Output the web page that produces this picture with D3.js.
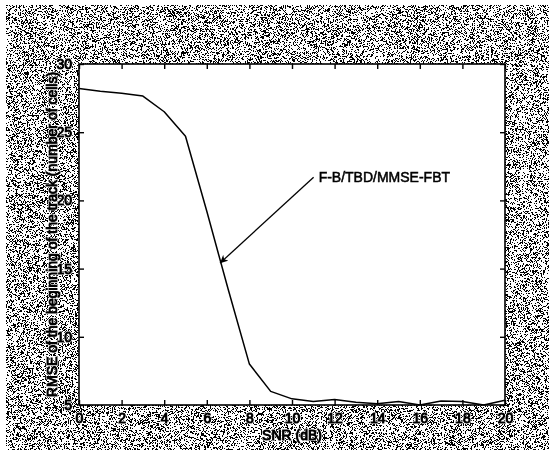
<!DOCTYPE html>
<html>
<head>
<meta charset="utf-8">
<script src="https://cdn.jsdelivr.net/npm/d3@7"></script>
<style>
  html, body { margin: 0; padding: 0; background: #fff; overflow: hidden; }
  #wrap { position: relative; width: 549px; height: 450px; }
  #grain, #chart { position: absolute; left: 0; top: 0; display: block; }
  text { font-family: "Liberation Sans Narrow", "Arial Narrow", "Liberation Sans", Arial, sans-serif; fill: #000; }
  .ink { paint-order: stroke; stroke: #fff; stroke-width: 2.2px; stroke-linejoin: round; }
  .ink2 { stroke: #000; stroke-width: 0.9px; fill: #000; }
</style>
</head>
<body>
<div id="wrap">
  <canvas id="grain" width="549" height="450"></canvas>
  <svg id="chart" width="549" height="450"></svg>
</div>
<script>
// SNR values (dB) and the RMSE of the track start (number of cells)
const snr = [0, 1, 2, 3, 4, 5, 6, 7, 8, 9, 10, 11, 12, 13, 14, 15, 16, 17, 18, 19, 20];
const rmse = [28.2, 28.0, 27.85, 27.65, 26.5, 24.7, 19.2, 13.5, 8.0, 6.0, 5.45, 5.25, 5.4, 5.2, 5.1, 5.25, 5.0, 5.3, 5.25, 5.0, 5.35];
const xTicks = [0, 2, 4, 6, 8, 10, 12, 14, 16, 18, 20];
const yTicks = [5, 10, 15, 20, 25, 30];
const seriesName = "F-B/TBD/MMSE-FBT";
const xTitle = "SNR (dB)";
const yTitle = "RMSE of the beginning of the track (number of cells)";
// annotation: label anchor and arrow tip in data units
const labelAt = [11.25, 21.7];
const arrowTip = [6.62, 15.4];

const W = 549, H = 450;
const m = { left: 79, right: 505, top: 64, bottom: 405 };
const fontSize = 14;

// scanned-paper backdrop: a deterministic black/white dither
(function drawGrain() {
  const ctx = document.getElementById("grain").getContext("2d");
  const img = ctx.createImageData(W, H);
  const hash = (i, j) => {
    const s = Math.sin(i * 12.9898 + j * 78.233) * 43758.5453;
    return s - Math.floor(s);
  };
  const smooth = (px, py) => {
    const i = Math.floor(px), j = Math.floor(py);
    const fx = px - i, fy = py - j;
    const a = hash(i, j), b = hash(i + 1, j), c = hash(i, j + 1), d = hash(i + 1, j + 1);
    const ux = fx * fx * (3 - 2 * fx), uy = fy * fy * (3 - 2 * fy);
    return a + (b - a) * ux + (c - a) * uy + (a - b - c + d) * ux * uy;
  };
  for (let yy = 0; yy < H; yy++) {
    for (let xx = 0; xx < W; xx++) {
      const k = (yy * W + xx) * 4;
      let v = 255;
      if (xx >= 6 && yy >= 5) {
        const n = 0.78 * hash(xx + 0.5, yy + 0.5) + 0.22 * smooth(xx / 2.2, yy / 1.6);
        v = n < 0.37 ? 0 : 255;
      }
      img.data[k] = img.data[k + 1] = img.data[k + 2] = v;
      img.data[k + 3] = 255;
    }
  }
  ctx.putImageData(img, 0, 0);
})();

const svg = d3.select("#chart");
const defs = svg.append("defs");

const x = d3.scaleLinear().domain([0, 20]).range([m.left, m.right]);
const y = d3.scaleLinear().domain([5, 30]).range([m.bottom, m.top]);

// plot area
svg.append("rect").attr("x", m.left).attr("y", m.top)
  .attr("width", m.right - m.left).attr("height", m.bottom - m.top)
  .attr("fill", "#fff");

const tickLen = 5;
const axisStyle = g => {
  g.select(".domain").remove();
  g.selectAll(".tick line").attr("stroke", "#000").attr("stroke-width", 1.4);
  g.selectAll(".tick text").attr("font-size", fontSize).attr("class", "ink");
};

// bottom axis with labels, ticks pointing inward
svg.append("g").attr("transform", `translate(0,${m.bottom})`)
  .call(d3.axisBottom(x).tickValues(xTicks).tickFormat(d3.format("d")).tickSizeInner(-tickLen).tickPadding(8))
  .call(axisStyle);
// top axis ticks only
svg.append("g").attr("transform", `translate(0,${m.top})`)
  .call(d3.axisTop(x).tickValues(xTicks).tickFormat("").tickSizeInner(-tickLen))
  .call(axisStyle);
// left axis with labels
svg.append("g").attr("transform", `translate(${m.left},0)`)
  .call(d3.axisLeft(y).tickValues(yTicks).tickFormat(d3.format("d")).tickSizeInner(-tickLen).tickPadding(7))
  .call(axisStyle);
// right axis ticks only
svg.append("g").attr("transform", `translate(${m.right},0)`)
  .call(d3.axisRight(y).tickValues(yTicks).tickFormat("").tickSizeInner(-tickLen))
  .call(axisStyle);

// frame
svg.append("rect").attr("x", m.left).attr("y", m.top)
  .attr("width", m.right - m.left).attr("height", m.bottom - m.top)
  .attr("fill", "none").attr("stroke", "#000").attr("stroke-width", 1.6);

// curve
const line = d3.line().x((d, i) => x(snr[i])).y(d => y(d));
svg.append("path").datum(rmse).attr("d", line)
  .attr("fill", "none").attr("stroke", "#000").attr("stroke-width", 1.5)
  .attr("stroke-linejoin", "round");

// annotation arrow and label
defs.append("marker").attr("id", "arrowhead")
  .attr("viewBox", "0 0 10 10").attr("refX", 10).attr("refY", 5)
  .attr("markerWidth", 8).attr("markerHeight", 8).attr("markerUnits", "userSpaceOnUse")
  .attr("orient", "auto")
  .append("path").attr("d", "M0,0 L10,5 L0,10 L3,5 Z").attr("fill", "#000");

svg.append("line")
  .attr("x1", x(labelAt[0]) - 5).attr("y1", y(labelAt[1]))
  .attr("x2", x(arrowTip[0])).attr("y2", y(arrowTip[1]))
  .attr("stroke", "#000").attr("stroke-width", 1.3)
  .attr("marker-end", "url(#arrowhead)");

svg.append("text").attr("x", x(labelAt[0])).attr("y", y(labelAt[1]) + 5)
  .attr("font-size", fontSize).attr("stroke", "#000").attr("stroke-width", 0.5)
  .text(seriesName);

// axis titles (white halo first, then a thin black outline for weight)
function title(sel) {
  sel.append("text").attr("class", "ink");
  sel.append("text").attr("class", "ink2");
}
const xt = svg.append("g").attr("transform", `translate(${(m.left + m.right) / 2},440)`);
title(xt);
xt.selectAll("text").attr("text-anchor", "middle").attr("font-size", fontSize).text(xTitle);

const yt = svg.append("g").attr("transform", `translate(57,${(m.top + m.bottom) / 2}) rotate(-90)`);
title(yt);
yt.selectAll("text").attr("text-anchor", "middle").attr("font-size", fontSize).text(yTitle);

// thicken the tick labels the same way
svg.selectAll(".tick text.ink").each(function () {
  const t = d3.select(this);
  d3.select(this.parentNode).append("text")
    .attr("class", "ink2").attr("font-size", fontSize)
    .attr("x", t.attr("x")).attr("y", t.attr("y")).attr("dy", t.attr("dy"))
    .attr("text-anchor", t.attr("text-anchor") || d3.select(this.parentNode.parentNode).attr("text-anchor"))
    .text(t.text());
});
</script>
</body>
</html>
